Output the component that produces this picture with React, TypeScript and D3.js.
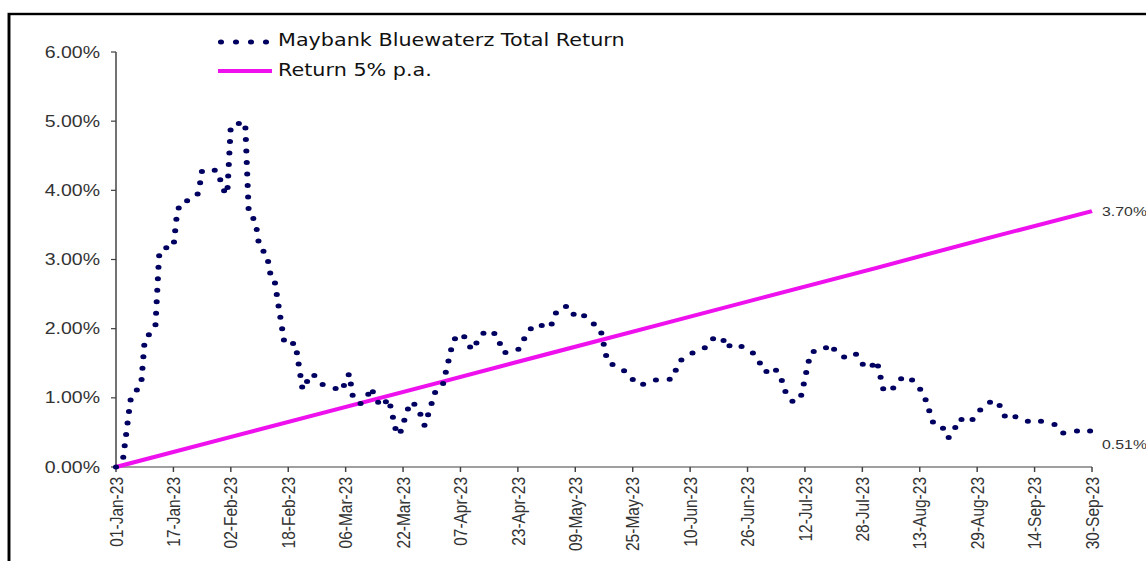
import * as d3 from "d3";

// the source picture is stretched sideways, so everything is drawn in a scaled group
const SX = 1.22;

const xTickLabels = [
  "01-Jan-23", "17-Jan-23", "02-Feb-23", "18-Feb-23", "06-Mar-23", "22-Mar-23",
  "07-Apr-23", "23-Apr-23", "09-May-23", "25-May-23", "10-Jun-23", "26-Jun-23",
  "12-Jul-23", "28-Jul-23", "13-Aug-23", "29-Aug-23", "14-Sep-23", "30-Sep-23",
];
const yTicks = [0, 1, 2, 3, 4, 5, 6];

// Maybank Bluewaterz total return (%), days counted from 01-Jan-23
const fundDays = [
  0, 2, 4, 5, 7, 8, 9, 11, 12, 13,
  16, 17, 18, 21, 23, 24, 28, 29, 30, 31,
  32, 36, 37, 38, 39, 40, 42, 43, 44, 47,
  50, 52, 53, 55, 56, 58, 60, 63, 64, 65,
  66, 68, 70, 71, 73, 74, 76, 78, 79, 80,
  82, 84, 86, 87, 89, 91, 94, 96, 98, 99,
  101, 103, 106, 108, 112, 115, 117, 121, 123, 126,
  128, 130, 132, 135, 137, 140, 143, 145, 148, 151,
  155, 157, 159, 161, 164, 166, 169, 170, 172, 175,
  178, 181, 183, 185, 187, 189, 191, 193, 194, 197,
  199, 201, 203, 206, 208, 210, 212, 214, 217, 219,
  221, 223, 225, 228, 231, 232, 234, 235, 238, 242,
  245, 247, 248, 251, 254, 256, 259, 262, 264, 267,
  270, 272,
];
const fundValues = [
  0, 0.13, 0.96, 1.07, 1.18, 1.84, 1.9, 2.05, 3.05, 3.17,
  3.17, 3.67, 3.83, 3.86, 3.96, 4.29, 4.29, 4.16, 4.0, 3.94,
  4.94, 4.99, 3.67, 3.63, 3.5, 3.17, 3.08, 2.8, 2.76, 1.77,
  1.79, 1.12, 1.22, 1.35, 1.25, 1.18, 1.16, 1.1, 1.25, 1.35,
  1.02, 0.91, 1.01, 1.15, 0.94, 0.87, 0.99, 0.53, 0.46, 0.62,
  0.94, 0.88, 0.6, 0.76, 1.09, 1.17, 1.83, 1.93, 1.84, 1.69,
  1.83, 1.98, 1.92, 1.65, 1.69, 1.97, 2.07, 2.01, 2.28, 2.33,
  2.17, 2.21, 2.11, 2.0, 1.51, 1.45, 1.34, 1.19, 1.2, 1.27,
  1.27, 1.53, 1.59, 1.66, 1.72, 1.85, 1.88, 1.72, 1.79, 1.73,
  1.63, 1.37, 1.45, 1.34, 1.02, 0.93, 1.04, 1.52, 1.67, 1.68,
  1.78, 1.64, 1.59, 1.65, 1.49, 1.42, 1.54, 1.09, 1.15, 1.29,
  1.31, 1.19, 1.07, 0.6, 0.55, 0.42, 0.58, 0.7, 0.64, 0.9,
  0.97, 0.84, 0.69, 0.73, 0.66, 0.69, 0.64, 0.61, 0.49, 0.51,
  0.55, 0.51,
];

// 5% p.a. reference line (%)
const benchDays = [0, 31, 59, 90, 120, 151, 181, 212, 243, 272];
const benchValues = [0, 0.42, 0.8, 1.22, 1.63, 2.05, 2.46, 2.88, 3.31, 3.7];

const legendLabels = ["Maybank Bluewaterz Total Return", "Return 5% p.a."];

const parse = d3.timeParse("%d-%b-%y");
const start = parse(xTickLabels[0]) as Date;
const end = parse(xTickLabels[xTickLabels.length - 1]) as Date;

export default function App() {
  const x = d3.scaleTime().domain([start, end]).range([116 / SX, 1092 / SX]);
  const y = d3.scaleLinear().domain([0, 6]).range([467, 52]);

  const line = d3
    .line<[number, number]>()
    .x((d) => x(d3.timeDay.offset(start, d[0])))
    .y((d) => y(d[1]));

  const fund = fundDays.map((d, i) => [d, fundValues[i]] as [number, number]);
  const bench = benchDays.map((d, i) => [d, benchValues[i]] as [number, number]);

  const axisColor = "#404040";
  const labelFont = "'Liberation Sans', Arial, sans-serif";
  const x0 = x.range()[0];
  const x1 = x.range()[1];
  const lastFund = fundValues[fundValues.length - 1];
  const lastBench = benchValues[benchValues.length - 1];

  return (
    <svg
      width={1146}
      height={561}
      style={{ position: "fixed", left: 0, top: 0, background: "#fff" }}
    >
      <g transform={`scale(${SX},1)`}>
        <rect x={9 / SX} y={14} width={1200} height={600} fill="#fff" stroke="#000" strokeWidth={2.4} />

        {/* y axis */}
        <line x1={x0} x2={x0} y1={y(6)} y2={y(0)} stroke={axisColor} strokeWidth={1.2} />
        {yTicks.map((t) => (
          <g key={t}>
            <line x1={x0 - 5 / SX} x2={x0} y1={y(t)} y2={y(t)} stroke={axisColor} strokeWidth={1.2} />
            <text
              x={100 / SX}
              y={y(t)}
              dy="0.35em"
              textAnchor="end"
              fontFamily={labelFont}
              fontSize={16}
              fill="#333"
            >
              {t.toFixed(2)}%
            </text>
          </g>
        ))}

        {/* x axis */}
        <line x1={x0} x2={x1} y1={y(0)} y2={y(0)} stroke={axisColor} strokeWidth={1.2} />
        {xTickLabels.map((lab) => {
          const px = x(parse(lab) as Date);
          return (
            <g key={lab}>
              <line x1={px} x2={px} y1={y(0)} y2={y(0) + 5} stroke={axisColor} strokeWidth={1.2} />
              <text
                transform={`translate(${px},${y(0) + 10}) rotate(-90)`}
                dy="0.35em"
                textAnchor="end"
                fontFamily={labelFont}
                fontSize={15.5}
                fill="#333"
              >
                {lab}
              </text>
            </g>
          );
        })}

        {/* series */}
        <path d={line(bench) || ""} fill="none" stroke="#ee11ee" strokeWidth={4} />
        <path
          d={line(fund) || ""}
          fill="none"
          stroke="#000060"
          strokeWidth={5}
          strokeLinecap="round"
          strokeDasharray="0 11.5"
        />

        {/* end labels */}
        <text x={1102 / SX} y={y(lastBench)} dy="0.35em" fontFamily={labelFont} fontSize={13} fill="#333">
          {lastBench.toFixed(2)}%
        </text>
        <text x={1102 / SX} y={y(lastFund) + 13} dy="0.35em" fontFamily={labelFont} fontSize={13} fill="#333">
          {lastFund.toFixed(2)}%
        </text>

        {/* legend */}
        <line
          x1={221 / SX}
          x2={267 / SX}
          y1={42}
          y2={42}
          stroke="#000060"
          strokeWidth={5}
          strokeLinecap="round"
          strokeDasharray={`0 ${15 / SX}`}
        />
        <line x1={218 / SX} x2={272 / SX} y1={71} y2={71} stroke="#ee11ee" strokeWidth={4} />
        <text x={278 / SX} y={46.5} fontFamily="'DejaVu Sans', Verdana, sans-serif" fontSize={17} fill="#111">
          {legendLabels[0]}
        </text>
        <text x={278 / SX} y={76} fontFamily="'DejaVu Sans', Verdana, sans-serif" fontSize={17} fill="#111">
          {legendLabels[1]}
        </text>
      </g>
    </svg>
  );
}
